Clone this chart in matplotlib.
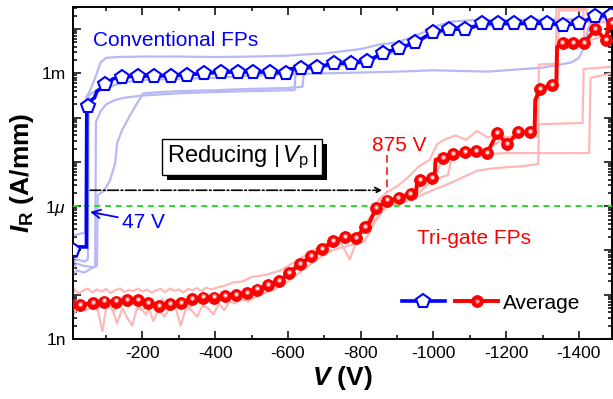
import numpy as np
import matplotlib
matplotlib.use("Agg")
import matplotlib.pyplot as plt
import matplotlib.ticker as mticker
import matplotlib.patheffects as pe
from matplotlib.transforms import offset_copy
from matplotlib.legend_handler import HandlerTuple

plt.rcParams['font.family'] = 'Liberation Sans'
plt.rcParams['mathtext.fontset'] = 'custom'
plt.rcParams['mathtext.rm'] = 'Liberation Sans'
plt.rcParams['mathtext.it'] = 'Liberation Sans:italic'
plt.rcParams['mathtext.bf'] = 'Liberation Sans:bold'
plt.rcParams['mathtext.bfit'] = 'Liberation Sans:italic:bold'

# ---- data (|V| in volts, log10 of I in A/mm) ----
# conventional FPs, average
blue_mark_v = [8, 51, 97, 144, 188, 232, 279, 323, 370, 416, 463, 504, 551, 595, 636, 680,
               727, 773, 818, 862, 906, 950, 999, 1043, 1087, 1134, 1178, 1222, 1268, 1313,
               1357, 1401, 1445, 1487]
blue_mark_i = [-6.98, -3.74, -3.24, -3.08, -3.06, -3.06, -3.05, -3.03, -3.0, -2.97, -2.97,
               -2.97, -2.97, -3.0, -2.88, -2.86, -2.77, -2.77, -2.72, -2.54, -2.43, -2.30,
               -2.07, -2.0, -2.0, -1.87, -1.87, -1.87, -1.87, -1.87, -1.91, -1.87, -1.71, -1.69]
blue_line_v = [8, 25, 46, 47, 51, 60, 68, 75, 85, 97, 120, 144, 188, 232, 279, 323, 370, 416,
               463, 504, 551, 598, 600, 636, 680, 727, 773, 818, 862, 906, 950, 999, 1043,
               1087, 1110, 1134, 1178, 1222, 1268, 1313, 1357, 1401, 1445, 1487]
blue_line_i = [-6.98, -6.92, -6.92, -3.9, -3.74, -3.6, -3.55, -3.4, -3.35, -3.24, -3.12,
               -3.08, -3.06, -3.06, -3.05, -3.03, -3.0, -2.97, -2.97, -2.97, -2.97, -3.0,
               -2.9, -2.88, -2.86, -2.77, -2.77, -2.72, -2.54, -2.43, -2.30, -2.07, -2.0,
               -2.0, -1.95, -1.87, -1.87, -1.87, -1.87, -1.87, -1.91, -1.87, -1.71, -1.69]

# conventional FPs, single devices
lb1_v = [0, 15, 30, 42, 45, 55, 70, 85, 100, 130, 200, 300, 400, 500, 600, 650, 700, 750,
         800, 850, 900, 950, 980, 1000, 1050, 1100, 1200, 1300, 1400, 1490]
lb1_i = [-6.7, -6.65, -6.62, -6.6, -3.55, -3.4, -3.1, -2.75, -2.65, -2.63, -2.62, -2.62,
         -2.63, -2.62, -2.6, -2.57, -2.55, -2.5, -2.45, -2.35, -2.3, -2.15, -2.05, -1.95,
         -1.83, -1.8, -1.8, -1.78, -1.78, -1.75]
lb2_v = [0, 20, 40, 50, 52, 60, 80, 110, 150, 200, 300, 400, 500, 600, 700, 800, 900, 1000,
         1100, 1150, 1200, 1250, 1300, 1350, 1380, 1400, 1415, 1425, 1440, 1490]
lb2_i = [-7.35, -7.2, -7.25, -7.2, -3.5, -3.45, -3.35, -3.3, -3.2, -3.15, -3.12, -3.1,
         -3.05, -3.02, -3.0, -2.98, -2.96, -2.93, -2.95, -2.96, -2.93, -2.9, -2.87, -2.8,
         -2.75, -2.65, -2.4, -2.0, -1.75, -1.72]
lb3_v = [0, 20, 40, 60, 70, 72, 85, 100, 125, 150, 200, 300, 400, 500, 600, 618, 622, 700,
         800, 860, 900, 950, 1000, 1050, 1100, 1200, 1300, 1400, 1450, 1490]
lb3_i = [-7.45, -7.3, -7.35, -7.37, -7.37, -4.1, -3.85, -3.7, -3.6, -3.55, -3.5, -3.45,
         -3.42, -3.4, -3.38, -3.38, -2.85, -2.8, -2.72, -2.6, -2.45, -2.3, -2.1, -1.98,
         -1.92, -1.9, -1.88, -1.86, -1.78, -1.72]
lb4_v = [0, 20, 40, 60, 75, 77, 95, 111, 125, 130, 144, 174, 202, 250, 300, 400, 500, 600,
         640, 645, 700, 800, 900, 1000, 1100, 1200, 1300, 1400, 1490]
lb4_i = [-7.6, -7.45, -7.5, -7.4, -7.35, -5.75, -5.65, -5.41, -5.03, -4.58, -4.28, -3.83,
         -3.45, -3.42, -3.4, -3.38, -3.35, -3.33, -3.3, -2.9, -2.86, -2.78, -2.5, -2.12,
         -1.95, -1.9, -1.88, -1.85, -1.7]

# tri-gate FPs, average
red_mark_v = [0, 29, 64, 95, 128, 158, 188, 216, 246, 276, 306, 337, 367, 397, 427, 458,
              488, 515, 546, 576, 603, 633, 664, 694, 724, 757, 787, 812, 843, 873, 905,
              938, 963, 996, 1027, 1054, 1087, 1117, 1148, 1175, 1203, 1233, 1266, 1293,
              1326, 1356, 1384, 1414, 1445, 1475, 1492]
red_mark_i = [-8.2, -8.23, -8.19, -8.16, -8.16, -8.12, -8.12, -8.19, -8.26, -8.21, -8.19,
              -8.10, -8.07, -8.07, -8.03, -8.01, -7.96, -7.89, -7.78, -7.69, -7.51, -7.31,
              -7.13, -6.97, -6.79, -6.70, -6.72, -6.47, -6.04, -5.88, -5.82, -5.73, -5.41,
              -5.37, -4.91, -4.82, -4.78, -4.76, -4.80, -4.35, -4.60, -4.33, -4.33, -3.36,
              -3.27, -2.32, -2.32, -2.32, -2.0, -2.25, -1.87]
red_line_v = [0, 29, 64, 95, 128, 158, 188, 216, 246, 276, 306, 337, 367, 397, 427, 458,
              488, 515, 546, 576, 603, 633, 664, 694, 724, 757, 787, 812, 825, 843, 873,
              905, 938, 952, 955, 963, 996, 1003, 1006, 1027, 1054, 1087, 1117, 1148, 1175,
              1203, 1233, 1266, 1278, 1280, 1293, 1326, 1338, 1340, 1356, 1384, 1414, 1445,
              1475, 1480, 1492]
red_line_i = [-8.2, -8.23, -8.19, -8.16, -8.16, -8.12, -8.12, -8.19, -8.26, -8.21, -8.19,
              -8.10, -8.07, -8.07, -8.03, -8.01, -7.96, -7.89, -7.78, -7.69, -7.51, -7.31,
              -7.13, -6.97, -6.79, -6.70, -6.72, -6.47, -6.35, -6.04, -5.88, -5.82, -5.73,
              -5.72, -5.45, -5.41, -5.37, -5.37, -4.95, -4.91, -4.82, -4.78, -4.76, -4.80,
              -4.35, -4.60, -4.33, -4.33, -4.33, -3.6, -3.36, -3.27, -3.27, -2.4, -2.32,
              -2.32, -2.32, -2.0, -2.25, -1.95, -1.87]

# tri-gate FPs, single devices
p1_v = [0, 12, 25, 38, 50, 62, 75, 88, 100, 112, 125, 138, 150, 162, 175, 188, 200, 212,
        225, 238, 250, 262, 275, 288, 300, 312, 325, 338, 350, 362, 375, 388, 400, 425, 450,
        475, 500, 540, 580, 620, 660, 700, 740, 770, 800, 830, 850, 870, 900, 930, 960, 990,
        1010, 1030, 1060, 1090, 1120, 1150, 1180, 1210, 1240, 1270, 1288, 1290, 1342, 1345,
        1412, 1415, 1450, 1490]
p1_i = [-7.95, -7.88, -7.97, -7.9, -7.86, -7.95, -7.88, -7.93, -7.87, -7.96, -7.9, -7.86,
        -7.94, -7.89, -7.92, -7.86, -7.93, -7.88, -7.95, -7.9, -7.87, -7.94, -7.86, -7.91,
        -7.88, -7.95, -7.87, -7.9, -7.85, -7.92, -7.84, -7.88, -7.85, -7.8, -7.72, -7.7,
        -7.6, -7.55, -7.45, -7.25, -7.05, -6.85, -6.75, -7.2, -6.55, -6.2, -5.85, -5.7,
        -5.55, -5.35, -5.1, -4.95, -4.6, -4.5, -4.4, -4.5, -4.3, -4.45, -4.35, -4.5, -4.35,
        -4.45, -4.4, -2.8, -2.78, -1.58, -1.58, -2.3, -2.2, -2.1]
p2_v = [0, 10, 20, 30, 45, 60, 75, 90, 100, 115, 130, 145, 160, 172, 185, 200, 215, 230,
        245, 260, 275, 290, 305, 320, 335, 350, 365, 380, 395, 410, 425, 440, 455, 470, 490,
        510, 540, 570, 600, 640, 680, 720, 760, 790, 810, 840, 870, 900, 940, 980, 1010,
        1040, 1080, 1120, 1160, 1200, 1240, 1288, 1290, 1410, 1413, 1490]
p2_i = [-8.3, -8.45, -8.3, -8.25, -8.35, -8.3, -8.28, -8.82, -8.3, -8.25, -8.65, -8.3,
        -8.55, -8.7, -8.3, -8.35, -8.25, -8.6, -8.3, -8.5, -8.3, -8.25, -8.7, -8.3, -8.35,
        -8.5, -8.25, -8.3, -8.45, -8.2, -8.35, -8.15, -8.2, -8.1, -8.15, -8.05, -7.95,
        -7.85, -7.7, -7.45, -7.2, -7.0, -6.9, -6.85, -6.8, -6.35, -6.0, -5.93, -5.86, -5.7,
        -5.6, -5.5, -5.35, -5.2, -5.15, -5.12, -5.1, -5.05, -4.15, -4.12, -2.9, -2.85]
p3_v = [0, 15, 30, 45, 60, 75, 90, 105, 120, 135, 150, 165, 180, 195, 210, 225, 240, 255,
        270, 285, 300, 315, 330, 345, 360, 380, 400, 430, 460, 490, 520, 560, 600, 640, 680,
        720, 760, 800, 840, 880, 920, 960, 1000, 1040, 1050, 1100, 1150, 1200, 1300, 1428,
        1432, 1490]
p3_i = [-8.25, -8.15, -8.3, -8.2, -8.1, -8.35, -8.2, -8.15, -8.4, -8.2, -8.1, -8.25, -8.15,
        -8.3, -8.45, -8.2, -8.25, -8.1, -8.35, -8.2, -8.25, -8.15, -8.3, -8.1, -8.2, -8.1,
        -8.15, -8.05, -8.05, -7.95, -7.9, -7.75, -7.55, -7.3, -7.1, -6.9, -6.75, -6.6,
        -6.3, -5.95, -5.9, -5.7, -5.4, -5.3, -4.9, -4.85, -4.82, -4.8, -4.8, -4.8, -3.1,
        -3.0]
p4_v = [600, 650, 700, 750, 800, 850, 900, 950, 1000, 1030, 1100, 1150, 1200, 1250, 1282,
        1284, 1336, 1338, 1420, 1430, 1490]
p4_i = [-7.45, -7.2, -7.0, -6.75, -6.65, -5.9, -5.8, -5.6, -5.4, -4.85, -4.75, -4.7, -4.45,
        -4.35, -4.35, -3.3, -3.25, -1.55, -1.55, -1.9, -1.8]

x_ticks = [-200, -400, -600, -800, -1000, -1200, -1400]
y_tick_vals = [1e-9, 1e-6, 1e-3]
y_tick_labels = ['1n', r'1$\mu$', '1m']

BLUE = '#0000ff'
RED = '#ff0000'
LBLUE = '#b8b8f6'
PINK = '#ffb8b8'

fig = plt.figure(figsize=(6.13, 3.99), dpi=100)
ax = fig.add_axes([73 / 613, 1 - 339 / 399, 539 / 613, 332 / 399])


def neg(v):
    return -np.asarray(v, dtype=float)


def pw(i):
    return 10.0 ** np.asarray(i, dtype=float)


for vv, ii in [(lb1_v, lb1_i), (lb2_v, lb2_i), (lb3_v, lb3_i), (lb4_v, lb4_i)]:
    ax.plot(neg(vv), pw(ii), color=LBLUE, lw=1.6, zorder=2)
for vv, ii in [(p1_v, p1_i), (p2_v, p2_i), (p3_v, p3_i), (p4_v, p4_i)]:
    ax.plot(neg(vv), pw(ii), color=PINK, lw=1.6, zorder=2)

# green 1 uA/mm criterion
ax.axhline(1e-6, color='#22e022', lw=1.4, ls=(0, (3, 2.5)), zorder=3)

# averages
ax.plot(neg(blue_line_v), pw(blue_line_i), color=BLUE, lw=2.6, zorder=4,
        solid_joinstyle='miter')
ax.plot(neg(blue_mark_v), pw(blue_mark_i), ls='none', marker='p', ms=10.5,
        mfc='white', mec=BLUE, mew=1.5, zorder=5)
ax.plot(neg(red_line_v), pw(red_line_i), color=RED, lw=2.8, zorder=4)
ax.plot(neg(red_mark_v), pw(red_mark_i), ls='none', marker='o', ms=8.5,
        mfc=RED, mec='#f00000', mew=0.6, zorder=5)
hl = offset_copy(ax.transData, fig=fig, x=-0.3, y=1.0, units='points')
ax.plot(neg(red_mark_v), pw(red_mark_i), ls='none', marker='o', ms=3.6,
        mfc='#ff7878', mec='none', zorder=6, transform=hl)
ax.plot(neg(red_mark_v), pw(red_mark_i), ls='none', marker='o', ms=1.8,
        mfc='white', mec='none', zorder=7, transform=hl)

# axes
ax.set_yscale('log')
ax.set_xlim(-9, -1491)
ax.set_ylim(1e-9, 10 ** -1.5)
ax.xaxis.set_major_locator(mticker.FixedLocator(x_ticks))
ax.xaxis.set_minor_locator(mticker.MultipleLocator(100))
ax.set_xticklabels([str(t) for t in x_ticks])
ax.yaxis.set_major_locator(mticker.LogLocator(base=10, numticks=20))
ax.yaxis.set_minor_locator(mticker.LogLocator(base=10, subs=np.arange(2, 10), numticks=20))
ax.yaxis.set_minor_formatter(mticker.NullFormatter())
ax.yaxis.set_major_formatter(mticker.FuncFormatter(
    lambda v, p: y_tick_labels[y_tick_vals.index(v)] if any(abs(v / t - 1) < 1e-6 for t in y_tick_vals) else ''))
ax.tick_params(which='both', direction='in', top=True, right=True, width=1.1)
ax.tick_params(which='major', length=6, labelsize=12.5, pad=5)
ax.tick_params(which='minor', length=3)
for s in ax.spines.values():
    s.set_linewidth(1.4)

ax.set_xlabel(r'$\mathbfit{V}$ (V)', fontsize=19, fontweight='bold', labelpad=2)
ax.set_ylabel(r'$\mathbfit{I}_\mathbf{R}$ (A/mm)', fontsize=19, fontweight='bold', labelpad=4)

# annotations
ax.text(0.037, 0.90, 'Conventional FPs', transform=ax.transAxes, color=BLUE,
        fontsize=15, ha='left', va='center')
ax.text(0.638, 0.304, 'Tri-gate FPs', transform=ax.transAxes, color=RED,
        fontsize=15, ha='left', va='center')
ax.text(0.555, 0.584, '875 V', transform=ax.transAxes, color=RED,
        fontsize=15, ha='left', va='center')
ax.plot([-873, -873], [10 ** -4.85, 10 ** -5.68], color=RED, lw=1.1, ls=(0, (5, 3)), zorder=3)
ax.annotate('47 V', xy=(-56, 10 ** -6.13), xytext=(0.091, 0.352), textcoords='axes fraction',
            color=BLUE, fontsize=15, ha='left', va='center',
            arrowprops=dict(arrowstyle='->', color=BLUE, lw=1.3, shrinkA=1, shrinkB=0))
ax.annotate('', xy=(-859, 10 ** -5.64), xytext=(-56, 10 ** -5.64),
            arrowprops=dict(arrowstyle='->', color='black', lw=1.2, ls='-.',
                            shrinkA=0, shrinkB=0))
box = ax.text(0.314, 0.548, r'Reducing |$\,\mathit{V}_\mathregular{p}\,$|', transform=ax.transAxes,
              fontsize=17, ha='center', va='center', zorder=8,
              bbox=dict(boxstyle='square,pad=0.2', fc='white', ec='black', lw=1.0))
box.get_bbox_patch().set_path_effects([
    pe.SimplePatchShadow(offset=(3.6, -3.6), shadow_rgbFace='black', alpha=1.0),
    pe.Normal()])

# legend
bh, = ax.plot([], [], color=BLUE, lw=2.6, marker='p', ms=10.5, mfc='white', mec=BLUE, mew=1.5)
rh, = ax.plot([], [], color=RED, lw=2.8, marker='o', ms=8.5, mfc=RED, mec='#f00000', mew=0.6)
rh2, = ax.plot([], [], ls='none', marker='o', ms=3.0, mfc='#ff9090', mec='none')
pair = (bh, (rh, rh2))
ax.legend([pair], ['Average'], handler_map={pair: HandlerTuple(ndivide=None, pad=0.5)},
          loc='center', bbox_to_anchor=(0.776, 0.108), frameon=False, fontsize=15,
          handlelength=4.6, handletextpad=0.25, borderpad=0.1)

fig.savefig('out.png', dpi=100)
